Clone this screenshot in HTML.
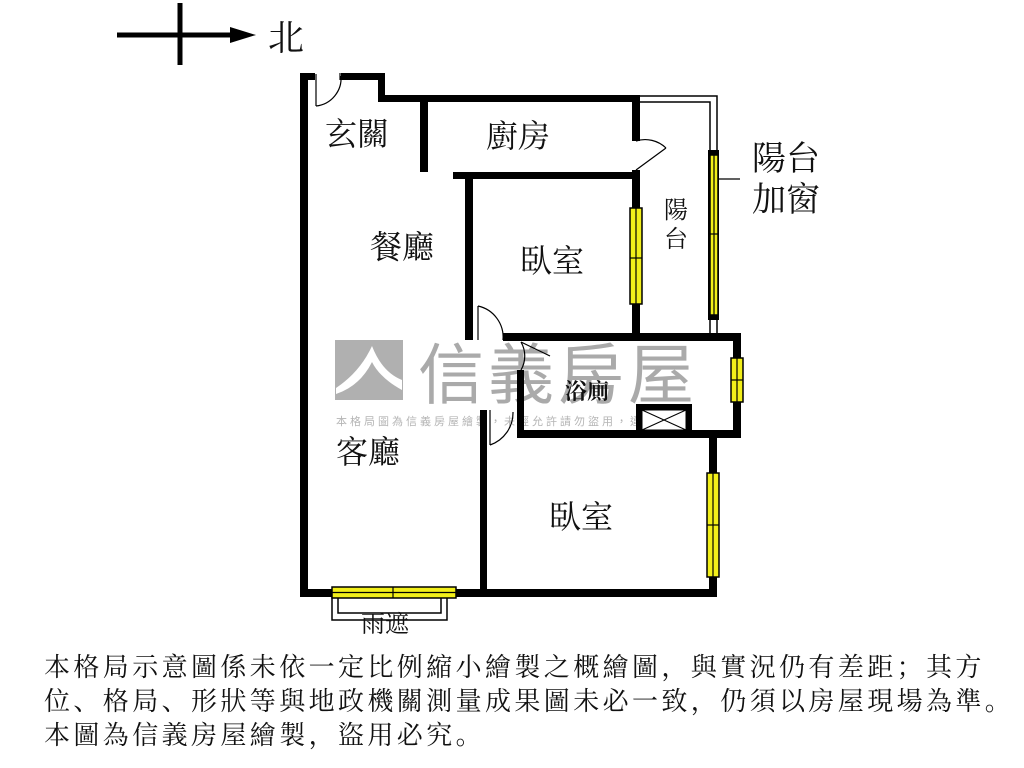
<!DOCTYPE html>
<html><head><meta charset="utf-8"><style>
html,body{margin:0;padding:0;background:#fff;width:1024px;height:768px;overflow:hidden}
svg{position:absolute;left:0;top:0}
.t{font-family:"Liberation Serif","Noto Serif CJK SC",serif;fill:#111}
.note{position:absolute;left:44px;font-family:"Liberation Serif","Noto Serif CJK SC",serif;font-size:26px;letter-spacing:3.4px;color:#111;white-space:nowrap;line-height:34px}
</style></head><body>
<svg width="1024" height="768" viewBox="0 0 1024 768">
<!-- watermark -->
<rect x="335" y="340" width="68" height="60" fill="#b0b0b0"/>
<path d="M336 388 Q360 372 372 346 Q382 372 402 380 L402 390 Q380 378 372 362 Q360 386 336 394Z" fill="#fff"/>
<text x="418" y="398" font-family="'Noto Sans CJK TC',sans-serif" font-size="66" fill="#aaa" letter-spacing="4">信義房屋</text>
<text x="336" y="425" font-family="'Noto Sans CJK TC',sans-serif" font-size="11" fill="#b5b5b5" letter-spacing="3">本格局圖為信義房屋繪製，未經允許請勿盜用，違者必究</text>
<!-- compass -->
<line x1="117" y1="35" x2="235" y2="35" stroke="#000" stroke-width="5"/>
<line x1="180" y1="3" x2="180" y2="65" stroke="#000" stroke-width="5"/>
<polygon points="230,27 256,35 230,43" fill="#000"/>
<text class="t" x="268" y="50" font-size="36">北</text>
<!-- balcony thin lines -->
<g stroke="#000" stroke-width="1.5" fill="none">
<polyline points="640,96 717,96 717,335"/>
<polyline points="640,102 710,102 710,335"/>
<rect x="332" y="597" width="115" height="23"/>
<polyline points="338,597 338,613 441,613 441,597"/>
</g>
<!-- walls -->
<g fill="#000">
<rect x="300" y="73" width="8" height="524"/>
<rect x="300" y="73" width="15" height="7"/>
<rect x="341" y="73" width="44" height="7"/>
<rect x="378" y="73" width="7" height="29"/>
<rect x="378" y="95" width="262" height="7"/>
<rect x="420" y="95" width="8" height="77"/>
<rect x="453" y="172" width="187" height="7"/>
<rect x="465" y="172" width="8" height="168"/>
<rect x="632" y="95" width="8" height="46"/>
<rect x="632" y="170" width="8" height="171"/>
<rect x="503" y="333" width="238" height="8"/>
<rect x="733" y="333" width="8" height="105"/>
<rect x="517" y="370" width="7" height="68"/>
<rect x="517" y="430" width="224" height="8"/>
<rect x="636" y="404" width="56" height="34"/>
<rect x="709" y="438" width="8" height="159"/>
<rect x="480" y="410" width="7" height="187"/>
<rect x="300" y="589" width="417" height="8"/>
<rect x="708" y="150" width="11" height="170"/>
</g>
<!-- shaft -->
<rect x="642" y="410" width="44" height="20" fill="#fff" stroke="#000" stroke-width="1"/>
<line x1="642" y1="410" x2="686" y2="430" stroke="#000"/><line x1="686" y1="410" x2="642" y2="430" stroke="#000"/>
<!-- windows -->
<g fill="#f2ef1a" stroke="#000" stroke-width="1.5">
<rect x="630" y="208" width="12" height="96"/>
<rect x="710" y="155" width="8" height="160"/>
<rect x="731" y="358" width="12" height="44"/>
<rect x="707" y="473" width="12" height="104"/>
<rect x="332" y="587" width="124" height="11"/>
</g>
<g stroke="#000" stroke-width="1.2">
<line x1="636" y1="208" x2="636" y2="304"/><line x1="630" y1="258" x2="642" y2="258"/>
<line x1="714" y1="155" x2="714" y2="315"/><line x1="710" y1="234" x2="718" y2="234"/>
<line x1="737" y1="358" x2="737" y2="402"/><line x1="731" y1="380" x2="743" y2="380"/>
<line x1="713" y1="473" x2="713" y2="577"/><line x1="707" y1="525" x2="719" y2="525"/>
<line x1="332" y1="592.5" x2="456" y2="592.5"/><line x1="393" y1="587" x2="393" y2="598"/>
<line x1="718" y1="179" x2="740" y2="179"/>
</g>
<!-- doors -->
<g stroke="#000" stroke-width="1.2" fill="none">
<path d="M316 106 L316 74 M316 106 A28 28 0 0 0 341 76"/>
<path d="M340 73 L340 80"/>
<path d="M636 170 L666 148 M636 141 A30 30 0 0 1 666 148"/>
<path d="M478 306 L478 340 M478 306 A32 32 0 0 1 503 340"/>
<path d="M521 342 A28 28 0 0 1 521 370 M521 342 L550 356"/>
<path d="M490 445 L490 410 M490 445 A34 34 0 0 0 513 412"/>
</g>
<!-- labels -->
<text class="t" x="325" y="145" font-size="32">玄關</text>
<text class="t" x="486" y="147" font-size="32">廚房</text>
<text class="t" x="370" y="258" font-size="32">餐廳</text>
<text class="t" x="520" y="272" font-size="32">臥室</text>
<text class="t" x="664" y="218" font-size="24">陽</text>
<text class="t" x="664" y="247" font-size="24">台</text>
<text class="t" x="752" y="170" font-size="34">陽台</text>
<text class="t" x="752" y="211" font-size="34">加窗</text>
<text class="t" x="565" y="399" font-size="22" font-weight="bold">浴廁</text>
<text class="t" x="336" y="463" font-size="32">客廳</text>
<text class="t" x="549" y="528" font-size="32">臥室</text>
<text class="t" x="361" y="632" font-size="24">雨遮</text>
</svg>
<div class="note" style="top:651px">本格局示意圖係未依一定比例縮小繪製之概繪圖，與實況仍有差距；其方</div>
<div class="note" style="top:685px">位、格局、形狀等與地政機關測量成果圖未必一致，仍須以房屋現場為準。</div>
<div class="note" style="top:719px">本圖為信義房屋繪製，盜用必究。</div>
</body></html>
